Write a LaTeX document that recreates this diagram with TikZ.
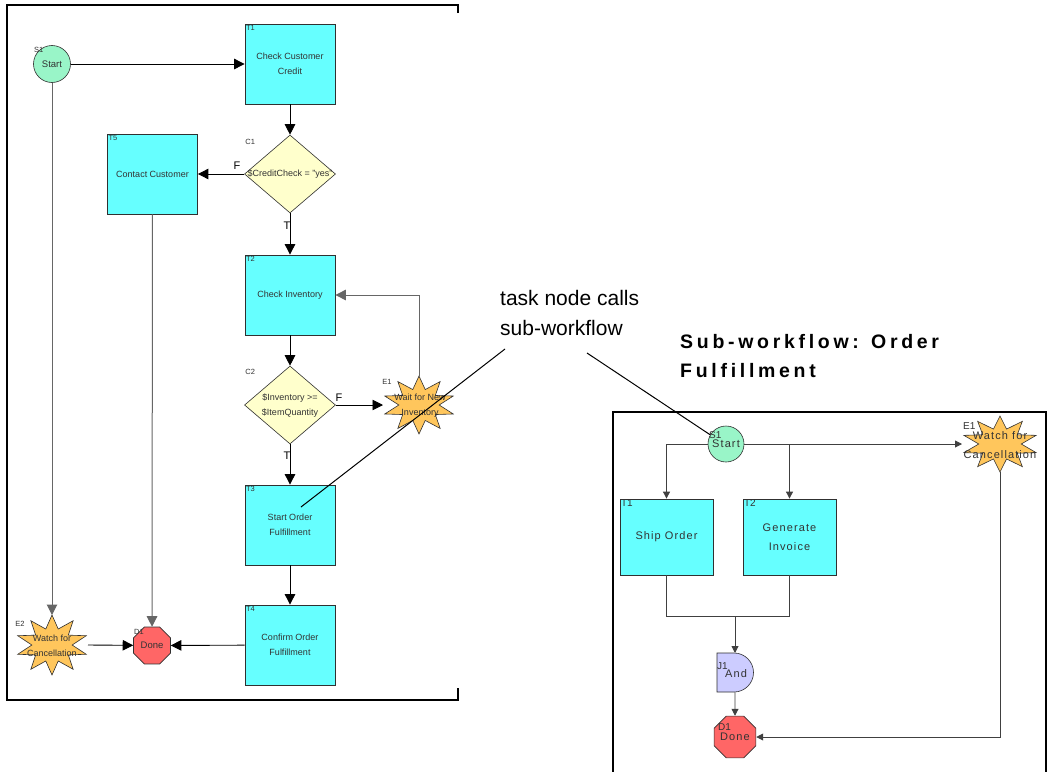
\documentclass[tikz,border=0pt]{standalone}
\usepackage{fontspec}
\setmainfont{Liberation Sans}
\newfontfamily\spacedf[LetterSpace=10]{Liberation Sans}
\newfontfamily\titlef[LetterSpace=19]{Liberation Sans}
\usetikzlibrary{shapes.geometric,arrows.meta}
\definecolor{taskc}{HTML}{66FFFF}
\definecolor{startc}{HTML}{99F5C8}
\definecolor{condc}{HTML}{FFFFCC}
\definecolor{burstc}{HTML}{FFC65C}
\definecolor{donec}{HTML}{FF6666}
\definecolor{joinc}{HTML}{CCCCFF}
\definecolor{txt}{HTML}{333333}
\definecolor{edge}{HTML}{303030}
\newcommand{\drawburst}[4]{%
  \draw[draw=edge, fill=burstc, line width=0.6pt] plot[samples=21, domain=0:20, variable=\k]
   ({#1+ifthenelse(mod(round(\k),2)<0.5,#3,0.56*#3)*cos(90+18*\k)},
    {#2+ifthenelse(mod(round(\k),2)<0.5,#4,0.56*#4)*sin(90+18*\k)}) -- cycle;}
\begin{document}
\begin{tikzpicture}[x=1pt,y=-1pt,
  task/.style={draw=edge, line width=0.8pt, fill=taskc, minimum width=90pt, minimum height=80pt, inner sep=0pt, text=txt, align=center, font=\fontsize{9}{15}\selectfont},
  rtask/.style={draw=edge, line width=0.8pt, fill=taskc, minimum width=93pt, minimum height=76pt, inner sep=0pt, text=txt, align=center, font=\spacedf\fontsize{11}{19}\selectfont},
  startn/.style={circle, draw=edge, line width=0.6pt, fill=startc, minimum size=#1, inner sep=0pt, text=txt},
  cond/.style={diamond, draw=edge, line width=0.6pt, fill=condc, minimum width=91pt, minimum height=78pt, inner sep=0pt},
  donen/.style={regular polygon, regular polygon sides=8, draw=edge, line width=0.6pt, fill=donec, minimum size=#1, inner sep=0pt, text=txt},
  ghost/.style={inner sep=0pt, outer sep=0pt},
  ntext/.style={text=txt, align=center, inner sep=0pt, font=\fontsize{9}{15}\selectfont},
  rtext/.style={text=txt, align=center, inner sep=0pt, font=\spacedf\fontsize{11}{19}\selectfont},
  tag/.style={text=txt, inner sep=1.2pt, font=\fontsize{7.5}{8}\selectfont, anchor=north west},
  rtag/.style={text=txt, inner sep=1.2pt, font=\fontsize{10}{10}\selectfont, anchor=north west},
  flag/.style={text=black, inner sep=0pt, font=\fontsize{11}{11}\selectfont},
  arr/.style={draw=black, line width=0.9pt, -{Triangle[length=10.5pt,width=10.5pt]}},
  garr/.style={draw=black!60, line width=1pt, -{Triangle[length=10.5pt,width=10.5pt]}},
  rarr/.style={draw=black!75, line width=0.9pt, -{Triangle[length=7pt,width=7pt]}},
  rline/.style={draw=black!75, line width=0.9pt},
  frame/.style={draw=black, line width=2pt},
  ann/.style={line width=1pt, draw=black}
]
\useasboundingbox (0,0) rectangle (1049,771);
\fill[white] (0,0) rectangle (1049,771);

% frames
\draw[frame] (458,13) -- (458,5) -- (7,5) -- (7,700) -- (458,700) -- (458,688);
\draw[frame] (613,775) -- (613,412) -- (1046,412) -- (1046,775);

% ---------------- main workflow ----------------
\node[startn=37pt, font=\fontsize{9.5}{9.5}\selectfont] (s1) at (52,64) {Start};
\node[tag, inner sep=0pt] (s1l) at (34,47) {S1};

\node[task] (t1) at (290,64) {Check Customer\\Credit};
\node[tag] (t1l) at (t1.north west) {T1};

\node[cond] (c1) at (290,174) {};
\node[ntext] (c1t) at (290,174) {\$CreditCheck = "yes"};
\node[tag] (c1l) at (244,138) {C1};

\node[task] (t5) at (152.5,174) {Contact Customer};
\node[tag] (t5l) at (t5.north west) {T5};

\node[task] (t2) at (290,295) {Check Inventory};
\node[tag] (t2l) at (t2.north west) {T2};

\node[cond] (c2) at (290,405) {};
\node[ntext] (c2t) at (290,405.5) {\$Inventory >=\\\$ItemQuantity};
\node[tag] (c2l) at (244,368) {C2};

\drawburst{419}{405}{36}{29}
\node[ghost, minimum width=72pt, minimum height=58pt] (e1) at (419,405) {};
\node[ntext] (e1t) at (420,405.5) {Wait for New\\Inventory};
\node[tag] (e1l) at (381,378) {E1};

\node[task] (t3) at (290,525) {Start Order\\Fulfillment};
\node[tag] (t3l) at (t3.north west) {T3};

\node[task] (t4) at (290,645) {Confirm Order\\Fulfillment};
\node[tag] (t4l) at (t4.north west) {T4};

\node[donen=40pt, font=\fontsize{9.5}{9.5}\selectfont] (d1) at (152,645.5) {\raisebox{-1pt}{Done}};
\node[tag, inner sep=0pt] (d1l) at (134,629) {D1};

\drawburst{52}{645}{36}{30}
\node[ghost, minimum width=72pt, minimum height=60pt] (e2) at (52,645) {};
\node[ntext] (e2t) at (52,646) {Watch for\\Cancellation};
\node[tag] (e2l) at (14,620) {E2};

% connectors
\draw[arr] (s1) -- (t1);
\draw[arr] (t1) -- (c1);
\draw[arr] (c1) -- (t5);
\draw[arr] (c1) -- (t2);
\draw[arr] (t2) -- (c2);
\draw[arr] (c2) -- (e1.west);
\draw[arr] (c2) -- (t3);
\draw[arr] (t3) -- (t4);
\draw[arr] (t4) -- (d1);
\draw[arr] (e2.east) -- (d1);
\draw[garr] (e1.north) |- (t2.east);
\draw[garr] (s1) -- (e2.north);
\draw[garr] (t5) -- (d1);

\node[flag] (f1) at (237,166) {F};
\node[flag] (tt1) at (287,226) {T};
\node[flag] (f2) at (339,398) {F};
\node[flag] (tt2) at (287,456) {T};

% ---------------- annotations ----------------
\node[anchor=base west, inner sep=0pt, font=\fontsize{21}{21}\selectfont] (ann1) at (500,305) {task node calls};
\node[anchor=base west, inner sep=0pt, font=\fontsize{21}{21}\selectfont] (ann2) at (500,335) {sub-workflow};
\coordinate (a1s) at (505,349);
\coordinate (a1e) at (301,507);
\coordinate (a2s) at (587,353);
\coordinate (a2e) at (712,436);
\draw[ann] (a1s) -- (a1e);
\draw[ann] (a2s) -- (a2e);

\node[anchor=base west, inner sep=0pt, font=\titlef\bfseries\fontsize{19.5}{19.5}\selectfont] (tit1) at (680,348) {Sub-workflow: Order};
\node[anchor=base west, inner sep=0pt, font=\titlef\bfseries\fontsize{19.5}{19.5}\selectfont] (tit2) at (680,377) {Fulfillment};

% ---------------- sub-workflow ----------------
\node[startn=36pt, font=\spacedf\fontsize{11}{11}\selectfont] (rs1) at (726,444) {Start};
\node[rtag, inner sep=0pt] (rs1l) at (709,431) {S1};

\node[rtask] (rt1) at (666.5,537) {Ship Order};
\node[rtag] (rt1l) at (rt1.north west) {T1};
\node[rtask] (rt2) at (789.5,537) {Generate\\Invoice};
\node[rtag] (rt2l) at (rt2.north west) {T2};

\drawburst{1000}{444}{38}{28}
\node[ghost, minimum width=76pt, minimum height=56pt] (re1) at (1000,444) {};
\node[rtext] (re1t) at (1000,445) {Watch for\\Cancellation};
\node[rtag, inner sep=0pt] (re1l) at (963,422) {E1};

\node[ghost, minimum width=36pt, minimum height=39pt] (rj1) at (735,672.5) {};
\draw[draw=edge, line width=0.6pt, fill=joinc] (rj1.north west) -- (734,653) arc[start angle=-90, end angle=90, radius=19.5] -- (rj1.south west) -- cycle;
\node[rtext] (rj1t) at (736,674) {And};
\node[rtag, inner sep=0pt] (rj1l) at (717,662) {J1};

\node[donen=41pt, font=\spacedf\fontsize{11}{11}\selectfont] (rd1) at (735,737) {\raisebox{-2pt}{Done}};
\node[rtag, inner sep=0pt] (rd1l) at (718,723) {D1};

\coordinate (rjm) at (735,616);
\draw[rarr] (rs1) -- (re1.west);
\draw[rarr] (rs1.west) -| (rt1.north);
\draw[rarr] (rt2.north |- rs1.east) -- (rt2.north);
\draw[rline] (rt1.south) |- (rt2.south |- rjm) -- (rt2.south);
\draw[rarr] (rjm) -- (rj1.north);
\draw[rarr] (rj1.south) -- (rd1.north);
\draw[rarr] (re1.south) |- (rd1.east);
\end{tikzpicture}
\end{document}
